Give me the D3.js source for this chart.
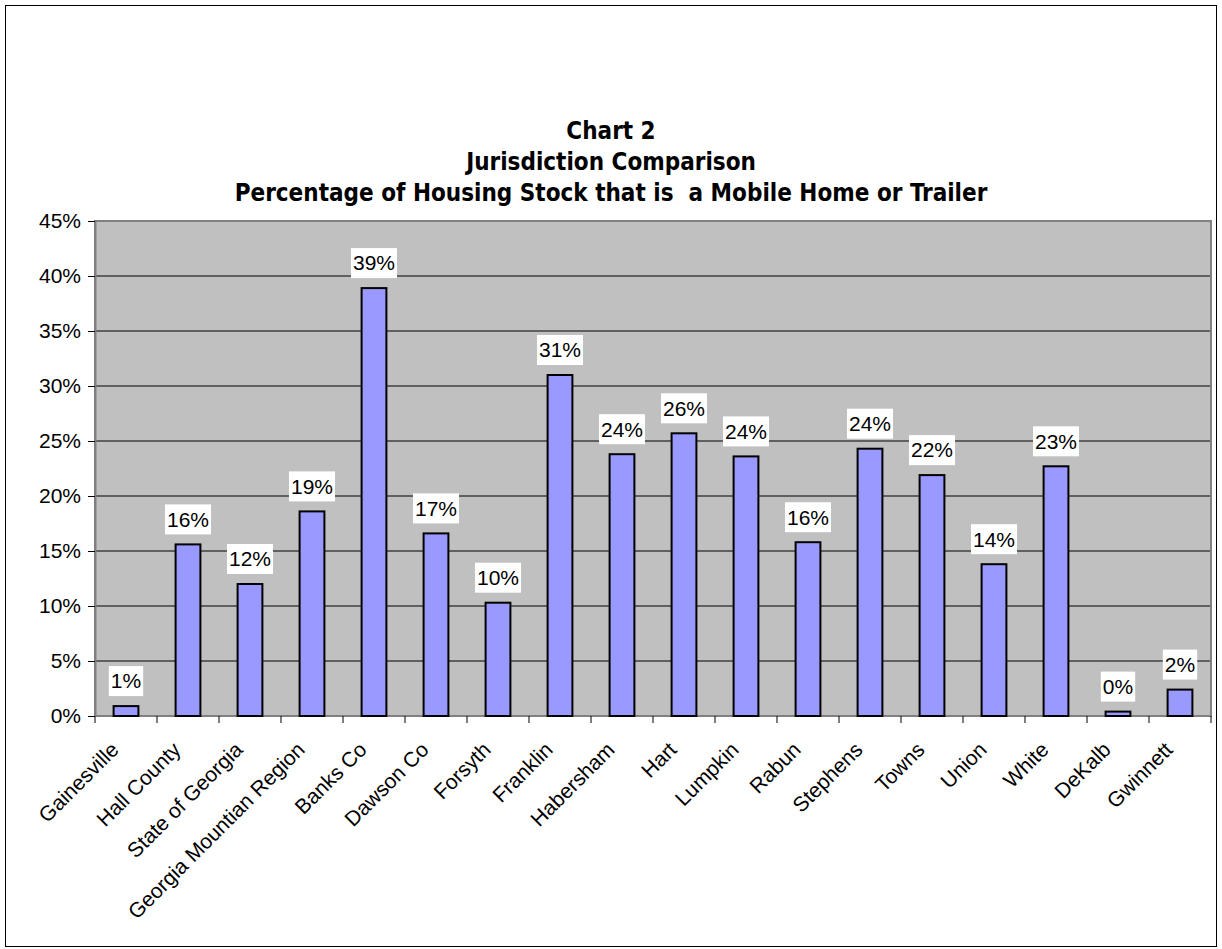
<!DOCTYPE html>
<html>
<head>
<meta charset="utf-8">
<script src="https://cdn.jsdelivr.net/npm/d3@7"></script>
<style>
  html, body { margin: 0; padding: 0; background: #fff; }
  svg { display: block; }
</style>
</head>
<body>
<svg id="chart" width="1222" height="949"></svg>
<script>
// Share of housing stock that is a mobile home or trailer, by jurisdiction
const categories = [
  "Gainesville", "Hall County", "State of Georgia", "Georgia Mountian Region",
  "Banks Co", "Dawson Co", "Forsyth", "Franklin", "Habersham", "Hart",
  "Lumpkin", "Rabun", "Stephens", "Towns", "Union", "White", "DeKalb", "Gwinnett"
];
const values = [0.9, 15.6, 12.0, 18.6, 38.9, 16.6, 10.3, 31.0, 23.8, 25.7,
                23.6, 15.8, 24.3, 21.9, 13.8, 22.7, 0.4, 2.4];
const yTicks = [0, 5, 10, 15, 20, 25, 30, 35, 40, 45];
const titleLines = [
  "Chart 2",
  "Jurisdiction Comparison",
  "Percentage of Housing Stock that is  a Mobile Home or Trailer"
];

const svg = d3.select("#chart");
const font = "'Liberation Sans', Arial, sans-serif";
const fontSize = 21;

// outer chart frame
svg.append("rect")
  .attr("x", 5.5).attr("y", 5.5)
  .attr("width", 1211).attr("height", 941)
  .attr("fill", "#fff").attr("stroke", "#000").attr("stroke-width", 1);

const plot = { left: 95, right: 1211, top: 221, bottom: 716 };

const x = d3.scaleBand()
  .domain(categories)
  .range([plot.left, plot.right])
  .paddingInner(0.6).paddingOuter(0.3);

const xTick = d3.scaleBand()
  .domain(categories)
  .range([plot.left, plot.right]);

const y = d3.scaleLinear()
  .domain([0, 45])
  .range([plot.bottom, plot.top]);

// plot area background
svg.append("rect")
  .attr("x", plot.left).attr("y", plot.top)
  .attr("width", plot.right - plot.left).attr("height", plot.bottom - plot.top)
  .attr("fill", "#C0C0C0");

// horizontal gridlines
svg.append("g")
  .selectAll("line")
  .data(yTicks.filter(t => t > 0 && t < 45))
  .join("line")
  .attr("x1", plot.left).attr("x2", plot.right)
  .attr("y1", d => y(d)).attr("y2", d => y(d))
  .attr("stroke", "#000").attr("stroke-width", 1);

// plot border
svg.append("rect")
  .attr("x", plot.left).attr("y", plot.top)
  .attr("width", plot.right - plot.left).attr("height", plot.bottom - plot.top)
  .attr("fill", "none").attr("stroke", "#808080").attr("stroke-width", 2);

// y axis
const yAxis = d3.axisLeft(y)
  .tickValues(yTicks)
  .tickFormat(d => d + "%")
  .tickSizeInner(7).tickSizeOuter(0).tickPadding(7);
const gy = svg.append("g")
  .attr("transform", `translate(${plot.left},0)`)
  .call(yAxis);
gy.select(".domain").attr("stroke", "#808080").attr("stroke-width", 2);
gy.selectAll(".tick line").attr("stroke", "#000");
gy.selectAll(".tick text")
  .attr("font-family", font).attr("font-size", fontSize).attr("fill", "#000");

// x axis: ticks sit on band boundaries
const boundaries = categories.map(c => xTick(c)).concat([plot.right]);
const gx = svg.append("g");
gx.append("line")
  .attr("x1", plot.left).attr("x2", plot.right)
  .attr("y1", plot.bottom).attr("y2", plot.bottom)
  .attr("stroke", "#808080").attr("stroke-width", 2);
gx.selectAll("line.tick")
  .data(boundaries)
  .join("line")
  .attr("class", "tick")
  .attr("x1", d => d).attr("x2", d => d)
  .attr("y1", plot.bottom).attr("y2", plot.bottom + 7)
  .attr("stroke", "#000");

gx.selectAll("text")
  .data(categories)
  .join("text")
  .attr("transform", d => `translate(${xTick(d) + xTick.bandwidth() / 2 - 6},${plot.bottom + 35}) rotate(-45)`)
  .attr("text-anchor", "end")
  .attr("font-family", font).attr("font-size", fontSize).attr("fill", "#000")
  .text(d => d);

// bars
svg.append("g")
  .selectAll("rect")
  .data(categories)
  .join("rect")
  .attr("x", d => x(d))
  .attr("y", (d, i) => y(values[i]))
  .attr("width", x.bandwidth())
  .attr("height", (d, i) => plot.bottom - y(values[i]))
  .attr("fill", "#9999FF")
  .attr("stroke", "#000").attr("stroke-width", 2);

// value labels with white boxes
const labels = svg.append("g")
  .selectAll("g")
  .data(categories)
  .join("g")
  .attr("transform", (d, i) => `translate(${x(d) + x.bandwidth() / 2},${y(values[i]) - 25})`);

labels.append("rect").attr("fill", "#fff");
labels.append("text")
  .attr("text-anchor", "middle")
  .attr("dy", "0.35em")
  .attr("font-family", font).attr("font-size", fontSize).attr("fill", "#000")
  .text((d, i) => Math.round(values[i]) + "%");
labels.each(function () {
  const g = d3.select(this);
  const bb = g.select("text").node().getBBox();
  g.select("rect")
    .attr("x", bb.x - 2).attr("y", -15)
    .attr("width", bb.width + 4).attr("height", 30);
});

// title
svg.append("g")
  .selectAll("text")
  .data(titleLines)
  .join("text")
  .attr("x", 611)
  .attr("y", (d, i) => 139 + i * 31)
  .attr("text-anchor", "middle")
  .attr("font-family", "'DejaVu Sans Condensed', 'Liberation Sans Narrow', sans-serif")
  .attr("font-weight", "bold")
  .attr("font-size", 24)
  .style("white-space", "pre")
  .attr("fill", "#000")
  .text(d => d);
</script>
</body>
</html>
